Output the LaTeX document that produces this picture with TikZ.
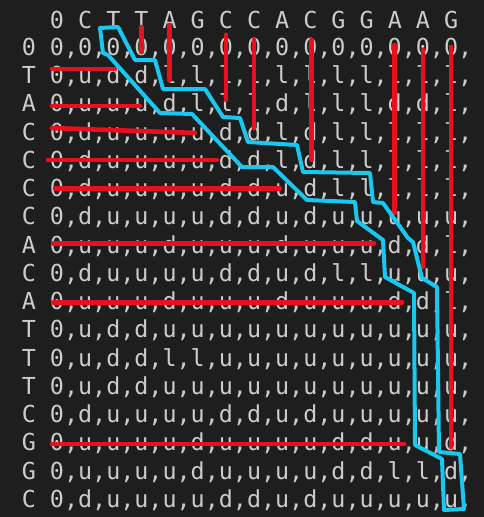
\documentclass[tikz,border=0pt]{standalone}
\usepackage{fontspec}
\setmonofont{DejaVu Sans Mono}
\definecolor{fondo}{RGB}{30,30,30}
\definecolor{letra}{RGB}{204,204,204}
\definecolor{rojo}{RGB}{232,16,30}
\definecolor{cian}{RGB}{24,200,240}

\begin{document}
\begin{tikzpicture}[x=14.075pt, y=14.125pt,
    texto/.style={text=letra, inner sep=0pt, outer sep=0pt,
      font=\ttfamily\fontsize{11.69pt}{14pt}\selectfont},
    marca/.style={draw=rojo, line width=2.3pt, line cap=round},
    camino/.style={draw=cian, line width=2pt, line join=round}]
  % Fondo
  \fill[fondo] (-2.025,1.664) rectangle (15.169,-16.637);
  \useasboundingbox (-2.025,1.664) rectangle (15.169,-16.637);

  % Cabecera
  \foreach \c [count=\k from 0] in {0,C,T,T,A,G,C,C,A,C,G,G,A,A,G}
    \node[texto, anchor=base] (c\k) at (\k,0.65) {\c};

  % Filas de la tabla
  \foreach \lab/\vals [count=\i from 0] in {
      0/{0,0,0,0,0,0,0,0,0,0,0,0,0,0,0},
      T/{0,u,d,d,l,l,l,l,l,l,l,l,l,l,l},
      A/{0,u,u,u,d,l,l,l,d,l,l,l,d,d,l},
      C/{0,d,u,u,u,u,d,d,l,d,l,l,l,l,l},
      C/{0,d,u,u,u,u,d,d,l,d,l,l,l,l,l},
      C/{0,d,u,u,u,u,d,d,u,d,l,l,l,l,l},
      C/{0,d,u,u,u,u,d,d,u,d,u,u,u,u,u},
      A/{0,u,u,u,d,u,u,u,d,u,u,u,d,d,l},
      C/{0,d,u,u,u,u,d,d,u,d,l,l,u,u,u},
      A/{0,u,u,u,d,u,u,u,d,u,u,u,d,d,l},
      T/{0,u,d,d,u,u,u,u,u,u,u,u,u,u,u},
      T/{0,u,d,d,l,l,u,u,u,u,u,u,u,u,u},
      T/{0,u,d,d,u,u,u,u,u,u,u,u,u,u,u},
      C/{0,d,u,u,u,u,d,d,u,d,u,u,u,u,u},
      G/{0,u,u,u,u,d,u,u,u,u,d,d,u,u,d},
      G/{0,u,u,u,u,d,u,u,u,u,d,d,l,l,d},
      C/{0,d,u,u,u,u,d,d,u,d,u,u,u,u,u}} {
    \node[texto, anchor=base] (e\i) at (-1,-\i-0.3) {\lab};
    \node[texto, anchor=base west] (f\i) at (-0.25,-\i-0.3) {\vals,};
  }

  % Marcas verticales
  \draw[marca] (3,0.71) -- (3,-0.18);
  \draw[marca] (4,0.78) -- (4,-1.17);
  \draw[marca] (6,0.43) -- (6,-1.88);
  \draw[marca] (7,0.25) -- (7,-2.87);
  \draw[marca] (9.05,0.25) -- (9.05,-4.0);
  \draw[marca] (12,0.07) -- (12,-5.88);
  \draw[marca] (13,-0.1) -- (13,-7.79);
  \draw[marca] (14,0) -- (14,-14.16);

  % Marcas horizontales
  \draw[marca] (-0.18,-0.78) -- (2.06,-0.78);
  \draw[marca] (-0.18,-2.09) -- (2.95,-2.09);
  \draw[marca] (-0.18,-2.87) -- (4.9,-3.04);
  \draw[marca] (-0.32,-4.0) -- (5.68,-4.0);
  \draw[marca] (-0.07,-5.0) -- (7.92,-5.0);
  \draw[marca] (-0.14,-6.95) -- (11.26,-6.95);
  \draw[marca] (-0.14,-9.04) -- (12.26,-9.04);
  \draw[marca] (-0.18,-14.05) -- (12.33,-14.05);

  % Contorno del camino
  \draw[camino] (1.528,0.673) -- (2.167,0.708) -- (2.771,-0.460)
    -- (3.481,-0.460) -- (3.766,-1.487) -- (5.258,-1.487)
    -- (5.897,-2.478) -- (6.501,-2.513) -- (6.785,-3.363)
    -- (8.526,-3.469) -- (8.739,-4.425) -- (11.119,-4.460)
    -- (11.226,-5.487) -- (11.581,-5.522) -- (12.469,-6.761)
    -- (12.647,-6.903) -- (12.966,-8.177) -- (13.499,-8.496)
    -- (13.570,-14.336) -- (14.316,-14.407) -- (14.458,-16.354)
    -- (13.748,-16.389) -- (13.677,-14.584) -- (12.718,-14.088)
    -- (12.682,-8.708) -- (11.652,-8.142) -- (11.581,-6.832)
    -- (10.657,-6.159) -- (10.586,-5.487) -- (8.881,-5.416)
    -- (7.673,-4.248) -- (6.572,-4.248) -- (4.796,-2.372)
    -- (3.659,-2.336) -- (1.812,-0.283) -- (1.634,-0.212) -- cycle;
\end{tikzpicture}
\end{document}
